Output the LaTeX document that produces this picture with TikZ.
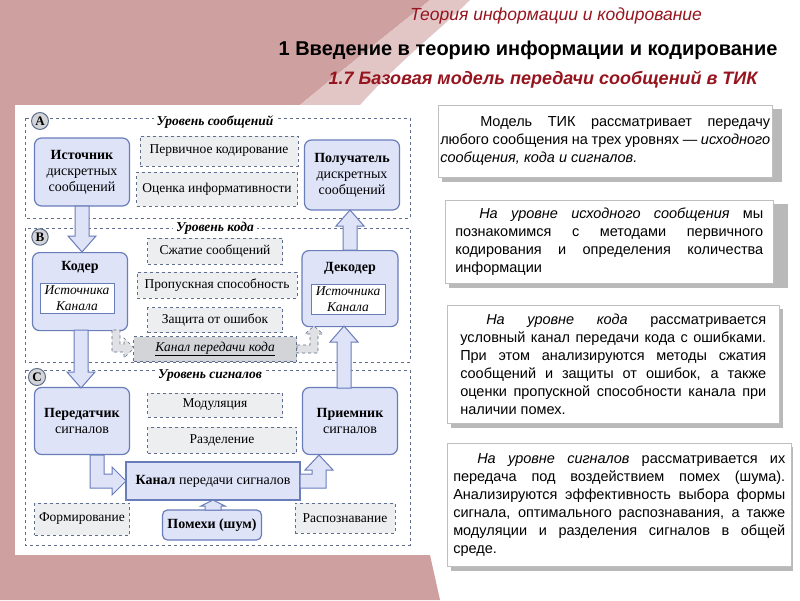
\documentclass[tikz,border=0pt]{standalone}
\usepackage{fontspec}
\setmainfont{Liberation Serif}
\newfontfamily\rsans{Liberation Sans}
\usetikzlibrary{calc}
\definecolor{bg}{RGB}{206,160,160}
\definecolor{lav}{RGB}{222,227,248}
\definecolor{bord}{RGB}{105,125,185}
\definecolor{gbox}{RGB}{236,238,240}
\definecolor{gdark}{RGB}{210,212,216}
\definecolor{gline}{RGB}{95,110,140}
\definecolor{dred}{RGB}{150,20,30}
\tikzset{
 mainbox/.style={draw=bord,fill=lav,line width=1.2pt,rounded corners=7pt,align=center,inner sep=2pt,font=\fontsize{14}{16}\selectfont},
 dbox/.style={draw=gline,fill=gbox,dashed,line width=0.6pt,align=center,font=\fontsize{13.5}{15}\selectfont},
 panel/.style={draw=gline,dashed,line width=0.6pt},
 lvl/.style={font=\fontsize{13.5}{15}\selectfont\bfseries\itshape,fill=white,inner sep=3pt},
 circ/.style={circle,draw=gline,fill=gdark,line width=1pt,inner sep=1.5pt,font=\fontsize{13}{14}\selectfont\bfseries},
 barrow/.style={draw=bord,fill=lav,line width=1pt,line join=miter},
 garrow/.style={draw=gline,fill=gdark!70!white,dashed,line width=0.6pt},
 inner/.style={draw=bord,fill=white,line width=0.8pt,font=\fontsize{13.5}{16}\selectfont\itshape,align=center,minimum width=74pt,inner sep=2.5pt},
 tbox/.style={draw=gray!50,fill=white,line width=0.5pt,align=justify,inner sep=6pt,font=\rsans\fontsize{14.5}{18}\selectfont},
 shad/.style={fill=gray!55}
}
\begin{document}
\begin{tikzpicture}[x=1pt,y=-1pt]
\useasboundingbox (0,0) rectangle (800,600);
\fill[white] (0,0) rectangle (800,600);
\fill[bg] (0,0) -- (430,0) .. controls (380,40) and (330,80) .. (300,105) -- (15,105) -- (15,555) -- (430,555) -- (440,600) -- (0,600) -- cycle;
\fill[bg!60!white] (430,0) .. controls (380,40) and (330,80) .. (300,105) -- (360,105) .. controls (400,60) and (440,30) .. (470,0) -- cycle;
% titles
\node[font=\rsans\itshape\fontsize{17.5}{19}\selectfont,text=dred] (t1) at (556,16) {Теория информации и кодирование};
\node[font=\rsans\bfseries\fontsize{20}{22}\selectfont] (t2) at (528,50) {1 Введение в теорию информации и кодирование};
\node[font=\rsans\bfseries\itshape\fontsize{18}{20}\selectfont,text=dred] (t3) at (543,80) {1.7 Базовая модель передачи сообщений в ТИК};
% white panel
\fill[white] (15,105) rectangle (420,555);
% panels
\draw[panel] (25,118) rectangle (410,218);
\draw[panel] (25,228) rectangle (410,362);
\draw[panel] (25,370) rectangle (410,545);
\node[lvl] (la) at (215,122) {Уровень сообщений};
\node[lvl] (lb) at (215,228) {Уровень кода};
\node[lvl] (lc) at (210,376) {Уровень сигналов};
\node[circ] (ca) at (40,121) {A};
\node[circ] (cb) at (40,237) {B};
\node[circ] (cc) at (37,377) {C};
% level A
\node[mainbox,minimum width=95pt,minimum height=68pt] (src) at (82,172) {\textbf{Источник}\\дискретных\\сообщений};
\node[mainbox,minimum width=95pt,minimum height=70pt] (dst) at (352,175) {\textbf{Получатель}\\дискретных\\сообщений};
\node[dbox,minimum width=158pt,minimum height=30pt] (pk) at (219,151) {Первичное кодирование};
\node[dbox,minimum width=161pt,minimum height=34pt] (oi) at (217,189) {Оценка информативности};
% level B
\node[dbox,minimum width=135pt,minimum height=26pt] (sz) at (215,251) {Сжатие сообщений};
\node[dbox,minimum width=160pt,minimum height=26pt] (ps) at (217,285) {Пропускная способность};
\node[dbox,minimum width=135pt,minimum height=25pt] (zo) at (215,320) {Защита от ошибок};
\node[dbox,fill=gdark,minimum width=163pt,minimum height=25pt,font=\fontsize{13.5}{15}\selectfont\itshape] (kk) at (215,349) {\underline{Канал передачи кода}};
\node[mainbox,minimum width=95pt,minimum height=78pt,anchor=north] (cod) at (80,252) {};
\node[font=\fontsize{14}{16}\selectfont\bfseries] (codt) at (80,267) {Кодер};
\node[inner] (codi) at (77,298) {Источника\\Канала};
\node[mainbox,minimum width=96pt,minimum height=76pt,anchor=north] (dec) at (350,250) {};
\node[font=\fontsize{14}{16}\selectfont\bfseries] (dect) at (350,268) {Декодер};
\node[inner] (deci) at (348,299) {Источника\\Канала};
% level C
\node[mainbox,minimum width=95pt,minimum height=67pt] (tx) at (82,421) {\textbf{Передатчик}\\сигналов};
\node[mainbox,minimum width=95pt,minimum height=67pt] (rx) at (350,421) {\textbf{Приемник}\\сигналов};
\node[dbox,minimum width=135pt,minimum height=24pt] (md) at (215,405) {Модуляция};
\node[dbox,minimum width=149pt,minimum height=26pt] (rz) at (222,440) {Разделение};
\node[mainbox,rounded corners=0pt,minimum width=174pt,minimum height=38pt] (ks) at (213,481) {\textbf{Канал} передачи сигналов};
\node[dbox,minimum width=95pt,minimum height=32pt] (fm) at (82,519) {Формирование};
\node[dbox,minimum width=100pt,minimum height=30pt] (rs) at (345,518) {Распознавание};
\node[mainbox,minimum width=99pt,minimum height=30pt,rounded corners=5pt] (pn) at (212,525) {\textbf{Помехи (шум)}};
% gray dashed arrows
\filldraw[garrow] (112,330) -- (112,352) -- (124,352) -- (124,358) -- (134,348) -- (124,338) -- (124,344) -- (120,344) -- (120,330) -- cycle;
\filldraw[garrow] (297,345) -- (310,345) -- (310,334) -- (305,334) -- (314,326) -- (323,334) -- (318,334) -- (318,353) -- (297,353) -- cycle;
% block arrows
\filldraw[barrow] (75,206) -- (75,236) -- (68,236) -- (82,252) -- (96,236) -- (89,236) -- (89,206) -- cycle;
\filldraw[barrow] (74,330) -- (74,372) -- (67,372) -- (81,388) -- (95,372) -- (88,372) -- (88,330) -- cycle;
\filldraw[barrow] (343,250) -- (343,226) -- (336,226) -- (350,210) -- (364,226) -- (357,226) -- (357,250) -- cycle;
\filldraw[barrow] (337,388) -- (337,342) -- (330,342) -- (344,326) -- (358,342) -- (351,342) -- (351,388) -- cycle;
\filldraw[barrow] (90,455) -- (90,488) -- (112,488) -- (112,495) -- (126,481) -- (112,467) -- (112,474) -- (104,474) -- (104,455) -- cycle;
\filldraw[barrow] (300,474) -- (312,474) -- (312,470) -- (305,470) -- (319,455) -- (333,470) -- (326,470) -- (326,488) -- (300,488) -- cycle;
\filldraw[barrow] (205,510) -- (205,506) -- (201,506) -- (213,500) -- (225,506) -- (221,506) -- (221,510) -- cycle;
% right text boxes
\fill[shad] (442,109) rectangle (782,182);
\node[tbox,text width=330pt,minimum height=72pt,anchor=north west,inner xsep=2pt] (b1) at (438,105) {\hspace*{40pt}Модель ТИК рассматривает передачу любого сообщения на трех уровнях — \textit{исходного сообщения, кода и сигналов.}};
\fill[shad] (449,204) rectangle (788,288);
\node[tbox,text width=308pt,minimum height=83pt,anchor=north west,inner xsep=10pt] (b2) at (445,200) {\hspace*{24pt}\textit{На уровне исходного сообщения} мы познакомимся с методами первичного кодирования и определения количества информации};
\fill[shad] (451,309) rectangle (783,428);
\node[tbox,text width=306pt,minimum height=118pt,anchor=north west,inner xsep=13pt] (b3) at (447,305) {\hspace*{26pt}\textit{На уровне кода} рассматривается условный канал передачи кода с ошибками. При этом анализируются методы сжатия сообщений и защиты от ошибок, а также оценки пропускной способности канала при наличии помех.};
\fill[shad] (451,447) rectangle (793,571);
\node[tbox,text width=332pt,minimum height=123pt,anchor=north west] (b4) at (447,443) {\hspace*{24pt}\textit{На уровне сигналов} рассматривается их передача под воздействием помех (шума). Анализируются эффективность выбора формы сигнала, оптимального распознавания, а также модуляции и разделения сигналов в общей среде.};
\end{tikzpicture}
\end{document}
